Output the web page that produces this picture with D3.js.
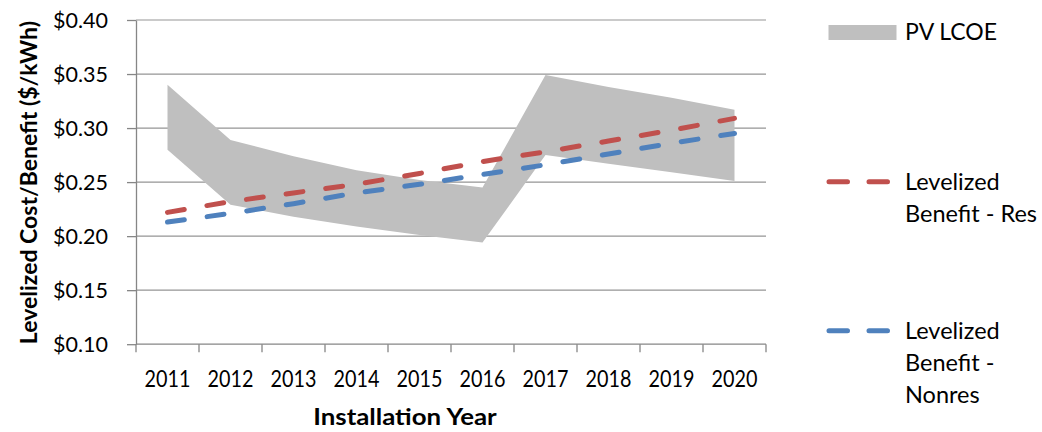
<!DOCTYPE html>
<html><head><meta charset="utf-8">
<script src="https://cdn.jsdelivr.net/npm/d3@7"></script>
<style>
html,body{margin:0;padding:0;background:#fff;}
svg{display:block;font-family:Lato,"Open Sans",sans-serif;}
</style></head>
<body><svg id="c" width="1042" height="432"></svg>
<script>
const years = ["2011","2012","2013","2014","2015","2016","2017","2018","2019","2020"];
const lcoeLow  = [0.280,0.229,0.218,0.209,0.201,0.194,0.275,0.267,0.259,0.251];
const lcoeHigh = [0.340,0.289,0.274,0.261,0.252,0.245,0.349,0.338,0.328,0.317];
const benefitRes    = [0.222,0.232,0.240,0.248,0.258,0.269,0.278,0.288,0.298,0.309];
const benefitNonres = [0.213,0.221,0.230,0.240,0.248,0.257,0.266,0.276,0.286,0.295];
const yTicks = [0.10,0.15,0.20,0.25,0.30,0.35,0.40];

const svg = d3.select("#c");
const L = 136, R = 766, T = 20, B = 344.2;
const x = d3.scaleBand().domain(years).range([L, R]).padding(0);
const xc = d => x(d) + x.bandwidth()/2;
const y = d3.scaleLinear().domain([0.10, 0.40]).range([B, T]);

// gridlines
svg.append("g").selectAll("line").data(yTicks.filter(v => v > 0.10)).join("line")
  .attr("x1", L).attr("x2", R).attr("y1", d => y(d)).attr("y2", d => y(d))
  .attr("stroke", "#959595").attr("stroke-width", 1.2);

// band
const area = d3.area().x((d,i) => xc(years[i])).y0((d,i) => y(lcoeLow[i])).y1((d,i) => y(lcoeHigh[i]));
svg.append("path").datum(years).attr("d", area).attr("fill", "#bfbfbf");

// lines
const line = arr => d3.line().x((d,i) => xc(years[i])).y((d,i) => y(arr[i]))(years);
svg.append("path").attr("d", line(benefitRes)).attr("fill","none").attr("stroke","#c0504d")
  .attr("stroke-width",5).attr("stroke-dasharray","17,23").attr("stroke-linecap","round");
svg.append("path").attr("d", line(benefitNonres)).attr("fill","none").attr("stroke","#4f81bd")
  .attr("stroke-width",5).attr("stroke-dasharray","17,23").attr("stroke-linecap","round");

// y axis
const ya = svg.append("g").attr("transform", `translate(${L},0)`)
  .call(d3.axisLeft(y).tickValues(yTicks).tickFormat(d3.format("$.2f")).tickSize(9).tickSizeOuter(0).tickPadding(19));
ya.select(".domain").attr("stroke","#868686").attr("stroke-width",1.3);
ya.selectAll(".tick line").attr("stroke","#868686").attr("stroke-width",1.3);
ya.selectAll(".tick text").attr("font-family","Lato").attr("font-size",21.5).attr("fill","#000").attr("dy","0.36em");

// x axis line + ticks at boundaries
svg.append("line").attr("x1",L).attr("x2",R).attr("y1",B).attr("y2",B).attr("stroke","#868686").attr("stroke-width",1.3);
const bounds = years.map(d => x(d)).concat([R]);
svg.append("g").selectAll("line").data(bounds).join("line")
  .attr("x1", d=>d).attr("x2", d=>d).attr("y1", B).attr("y2", B+8)
  .attr("stroke","#868686").attr("stroke-width",1.3);
svg.append("g").selectAll("text").data(years).join("text")
  .attr("transform", d => `translate(${xc(d)},386.5) scale(0.86,1)`)
  .attr("text-anchor","middle").attr("font-size",23).attr("fill","#000").text(d => d);

// axis titles
svg.append("text").attr("transform","translate(405,425) scale(1.1,1)").attr("text-anchor","middle")
  .attr("font-weight","bold").attr("font-size",23.5).attr("fill","#000").text("Installation Year");
svg.append("text").attr("transform",`translate(37,${(T+B)/2+0.5}) rotate(-90)`).attr("text-anchor","middle")
  .attr("font-weight","bold").attr("font-size",23).attr("fill","#000").text("Levelized Cost/Benefit ($/kWh)");

// legend
const lg = svg.append("g");
lg.append("rect").attr("x",828.5).attr("y",25).attr("width",68).attr("height",15).attr("fill","#bfbfbf");
lg.append("text").attr("x",905).attr("y",40).attr("font-size",23).attr("fill","#000").text("PV LCOE");
const legLines = [
  {color:"#c0504d", ly:181.7, lines:["Levelized","Benefit - Res"], by:189.5},
  {color:"#4f81bd", ly:330.7, lines:["Levelized","Benefit -","Nonres"], by:338.5}
];
legLines.forEach(e => {
  lg.append("line").attr("x1",829).attr("x2",888).attr("y1",e.ly).attr("y2",e.ly)
    .attr("stroke",e.color).attr("stroke-width",5).attr("stroke-dasharray","18.5,21.5").attr("stroke-linecap","round");
  e.lines.forEach((t,i) => {
    lg.append("text").attr("x",905).attr("y",e.by + i*32).attr("font-size",23.5).attr("fill","#000").text(t);
  });
});
</script></body></html>
